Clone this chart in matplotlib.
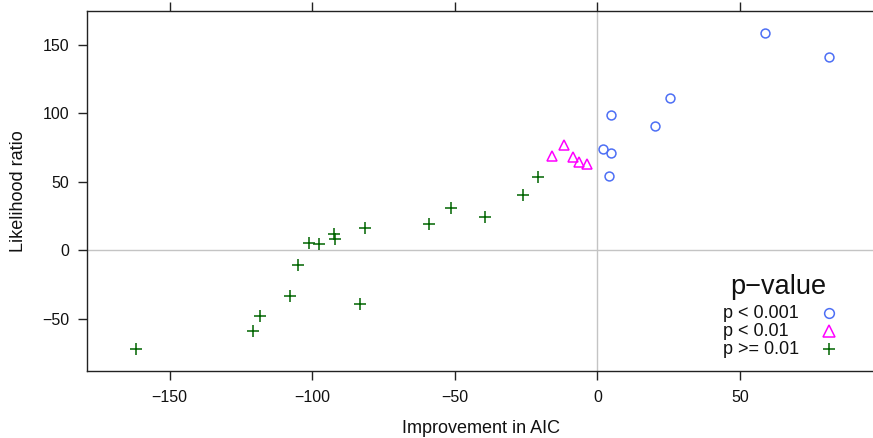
import matplotlib
matplotlib.use("Agg")
import matplotlib.pyplot as plt

plt.rcParams['font.family'] = ['Liberation Sans', 'DejaVu Sans']

# p < 0.001
aic_a = [58.7, 81.1, 25.5, 20.3, 4.9, 1.9, 4.9, 4.2]
lr_a = [158.5, 141.0, 111.1, 90.2, 98.7, 73.9, 70.8, 54.2]
# p < 0.01
aic_b = [-11.6, -15.9, -8.7, -6.3, -3.5]
lr_b = [76.9, 68.8, 68.1, 64.4, 62.9]
# p >= 0.01
aic_c = [-20.8, -26.0, -39.5, -51.2, -59.2, -81.6, -83.4, -92.5, -91.9, -97.6,
         -101.2, -104.9, -107.7, -118.3, -120.9, -161.9]
lr_c = [53.0, 39.9, 24.3, 30.6, 19.0, 16.3, -39.4, 11.7, 8.2, 4.4,
        5.3, -10.9, -33.6, -48.1, -58.8, -72.0]

group_labels = ["p < 0.001", "p < 0.01", "p >= 0.01"]
legend_title = "p\u2212value"
xticks = [-150, -100, -50, 0, 50]
yticks = [-50, 0, 50, 100, 150]

W, H = 873, 438
fig = plt.figure(figsize=(W / 100, H / 100), dpi=100)

def fx(px):
    return px / W

def fy(py):
    return 1 - py / H

left, right, top, bottom = 87, 875, 10.7, 370.7
ax = fig.add_axes([fx(left), fy(bottom), fx(right) - fx(left), (bottom - top) / H])

blue = '#4D6FF5'
magenta = '#FF00FF'
green = '#006400'
refc = '#c4c4c4'

ax.axhline(0, color=refc, lw=1.0, zorder=1)
ax.axvline(0, color=refc, lw=1.0, zorder=1)

ax.plot(aic_a, lr_a, linestyle='none', marker='o', markersize=6.4,
        markerfacecolor='none', markeredgecolor=blue, markeredgewidth=1.1, zorder=3)
ax.plot(aic_b, lr_b, linestyle='none', marker='^', markersize=7.6,
        markerfacecolor='none', markeredgecolor=magenta, markeredgewidth=1.1, zorder=3)
ax.plot(aic_c, lr_c, linestyle='none', marker='+', markersize=8.5,
        markeredgecolor=green, markeredgewidth=1.1, zorder=3)

ax.set_xlim(-179.0, 97.4)
ax.set_ylim(-88.1, 174.7)
ax.set_xticks(xticks)
ax.set_yticks(yticks)

for s in ax.spines.values():
    s.set_color('#222222')
    s.set_linewidth(1.0)
ax.spines['right'].set_visible(False)

ax.tick_params(axis='both', direction='out', length=6.5, width=1.0, color='#222222',
               labelsize=11.5, labelcolor='#111111')
ax.tick_params(axis='x', top=True, labeltop=False, pad=7.5)
ax.tick_params(axis='y', right=False, labelright=False, pad=6.3)

fig.text(fx(481), fy(428.5), "Improvement in AIC", ha='center', va='center',
         fontsize=13, color='#111111')
fig.text(fx(18.3), fy(190.7), "Likelihood ratio", ha='center', va='center',
         rotation=90, fontsize=13, color='#111111')

# legend
fig.text(fx(778), fy(294), legend_title, ha='center', va='baseline', fontsize=19.5,
         color='#111111')
rows = [318, 336, 354]
styles = [dict(marker='o', markersize=7.0, markerfacecolor='none', markeredgecolor=blue),
          dict(marker='^', markersize=8.0, markerfacecolor='none', markeredgecolor=magenta),
          dict(marker='+', markersize=9.0, markeredgecolor=green)]
for lab, yb, st in zip(group_labels, rows, styles):
    fig.text(fx(723), fy(yb), lab, ha='left', va='baseline', fontsize=13, color='#111111')
    fig.lines.append(matplotlib.lines.Line2D([fx(829)], [fy(yb - 5.5)], linestyle='none',
                                             markeredgewidth=1.1, transform=fig.transFigure,
                                             **st))

fig.savefig('out.png', dpi=100)
